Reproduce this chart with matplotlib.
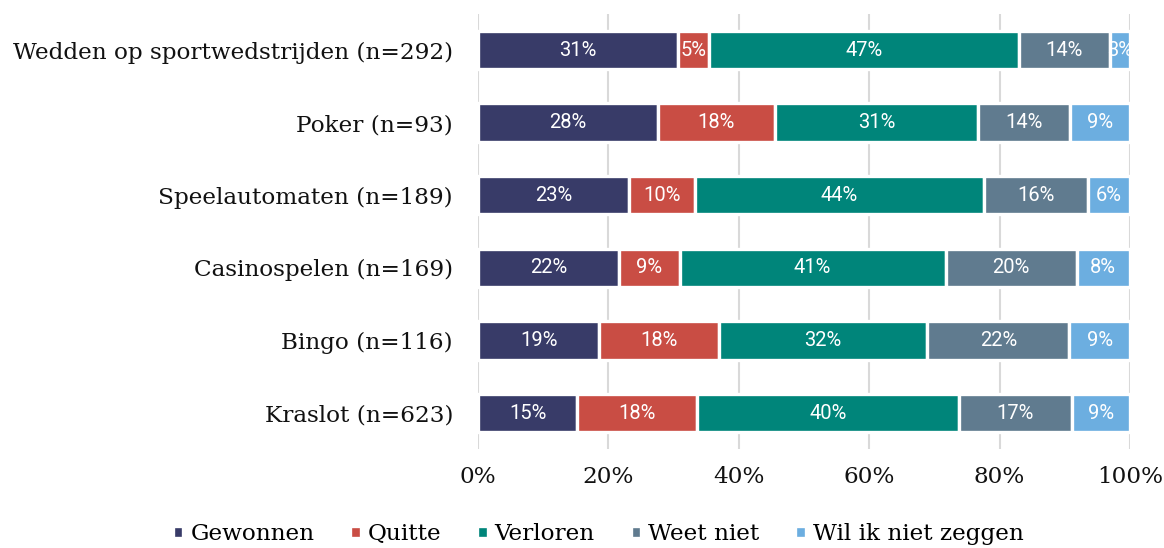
import matplotlib
matplotlib.use("Agg")
import matplotlib.pyplot as plt
import numpy as np

categories = [
    "Wedden op sportwedstrijden (n=292)",
    "Poker (n=93)",
    "Speelautomaten (n=189)",
    "Casinospelen (n=169)",
    "Bingo (n=116)",
    "Kraslot (n=623)",
]
series = ["Gewonnen", "Quitte", "Verloren", "Weet niet", "Wil ik niet zeggen"]

gewonnen = [30.7, 27.6, 23.1, 21.6, 18.6, 15.2]
quitte = [4.8, 17.9, 10.2, 9.3, 18.3, 18.4]
verloren = [47.4, 31.2, 44.3, 40.8, 32.0, 40.1]
weet_niet = [14.1, 14.1, 16.0, 20.1, 21.8, 17.4]
wil_niet = [3.0, 9.2, 6.4, 8.2, 9.3, 8.9]

labels_shown = [
    [31, 28, 23, 22, 19, 15],
    [5, 18, 10, 9, 18, 18],
    [47, 31, 44, 41, 32, 40],
    [14, 14, 16, 20, 22, 17],
    [3, 9, 6, 8, 9, 9],
]

colors = ["#383B68", "#C94D44", "#00857A", "#607B8F", "#6CAEE0"]

serif = "DejaVu Serif"
sans = "Roboto"

fig = plt.figure(figsize=(11.64, 5.48), dpi=100)
ax = fig.add_axes([0.4107, 0.180, 0.5601, 0.795])

data = [gewonnen, quitte, verloren, weet_niet, wil_niet]
y = np.arange(len(categories))
left = np.zeros(len(categories))
for vals, col, name, labs in zip(data, colors, series, labels_shown):
    vals = np.array(vals)
    bars = ax.barh(y, vals, left=left, height=0.53, color=col,
                   edgecolor="white", linewidth=2.4, label=name, zorder=2)
    for b, v, lab in zip(bars, vals, labs):
        t = ax.text(b.get_x() + v / 2, b.get_y() + b.get_height() / 2,
                    f"{lab}%", ha="center", va="center", color="white",
                    fontsize=14.5, family=sans, zorder=3)
        t.set_clip_path(b)
    left += vals

ax.set_xlim(0, 100)
ax.set_ylim(len(categories) - 0.5, -0.5)
ax.set_yticks(y)
ax.set_yticklabels(categories, fontsize=16.7, family=serif, color="#111111")
ax.set_xticks([0, 20, 40, 60, 80, 100])
ax.set_xticklabels(["0%", "20%", "40%", "60%", "80%", "100%"],
                   fontsize=16.7, family=serif, color="#111111")
ax.tick_params(axis="y", length=0, pad=18)
ax.tick_params(axis="x", length=0, pad=12)
ax.grid(axis="x", color="#D9D9D9", linewidth=1.5, zorder=0)
ax.set_axisbelow(True)
for s in ax.spines.values():
    s.set_visible(False)

fig.legend(loc="center", bbox_to_anchor=(0.514, 0.025), ncol=5, frameon=False,
           prop={"family": serif, "size": 16.7}, handlelength=0.45,
           handleheight=0.45, handletextpad=0.3, columnspacing=1.55,
           borderaxespad=0)

fig.savefig("out.png", dpi=100)
